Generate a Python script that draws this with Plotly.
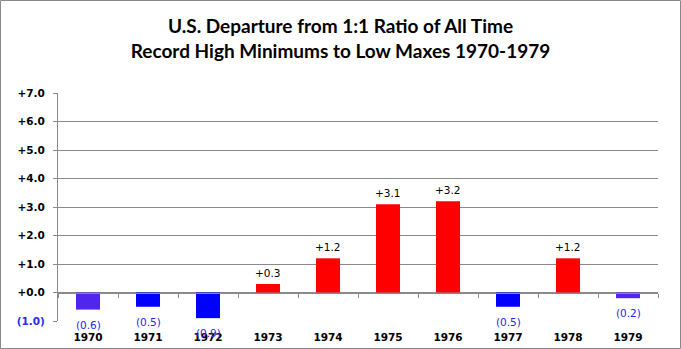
import plotly.graph_objects as go

# Departure from a 1:1 ratio of record high minimums to record low maximums, by year
years = ["1970", "1971", "1972", "1973", "1974", "1975", "1976", "1977", "1978", "1979"]
departure = [-0.6, -0.5, -0.9, 0.3, 1.2, 3.1, 3.2, -0.5, 1.2, -0.2]
bar_colors = ["#5026EE", "#0000FF", "#0000FF", "#FF0000", "#FF0000",
              "#FF0000", "#FF0000", "#0000FF", "#FF0000", "#5026EE"]

y_ticks = [-1, 0, 1, 2, 3, 4, 5, 6, 7]
y_tick_text = ["<span style='color:#2B2BF0'>(1.0)</span>", "+0.0", "+1.0", "+2.0",
               "+3.0", "+4.0", "+5.0", "+6.0", "+7.0"]

W, H = 681, 349
ML, MR, MT, MB = 58, 23, 93, 28
GRID = "#8A8A8A"
NEG_TEXT = "#2626F2"
Y_MIN, Y_MAX = -1, 7


def fmt(v):
    return f"+{v:.1f}" if v >= 0 else f"({abs(v):.1f})"


fig = go.Figure()
fig.add_trace(go.Bar(
    x=years, y=departure, marker=dict(color=bar_colors, line=dict(width=0)),
    width=0.4, hoverinfo="skip",
))

# value labels: above positive bars, below negative bars (x = category index)
for i, v in enumerate(departure):
    fig.add_annotation(
        x=i, y=v, xref="x", yref="y", text=fmt(v), showarrow=False,
        yanchor="bottom" if v >= 0 else "top",
        yshift=3 if v >= 0 else -7,
        font=dict(family="DejaVu Sans", size=10.5,
                  color="#000000" if v >= 0 else NEG_TEXT),
    )

# chart frame
pw, ph = W - ML - MR, H - MT - MB
fig.add_shape(type="rect", xref="paper", yref="paper",
              x0=-(ML - 0.5) / pw, x1=1 + (MR - 0.5) / pw,
              y0=-(MB - 0.5) / ph, y1=1 + (MT - 0.5) / ph,
              line=dict(color="#888888", width=1), layer="above")

fig.update_layout(
    width=W, height=H,
    margin=dict(l=ML, r=MR, t=MT, b=MB, pad=0, autoexpand=False),
    paper_bgcolor="white", plot_bgcolor="white",
    showlegend=False,
    title=dict(
        text="U.S. Departure from 1:1 Ratio of All Time<br>Record High Minimums to Low Maxes 1970-1979",
        x=0.5, xref="container", xanchor="center",
        y=1 - 33 / H, yref="container", yanchor="middle",
        font=dict(family="Lato", size=19, color="#000000", weight="bold"),
    ),
    # category axis drawn along zero, labels pushed down below the plot
    xaxis=dict(
        type="category", range=[-0.5, 9.5],
        anchor="free", position=(0 - Y_MIN) / (Y_MAX - Y_MIN),
        showline=True, linecolor=GRID, linewidth=1,
        ticks="outside", ticklen=4, tickcolor=GRID, tickson="boundaries",
        showgrid=False, zeroline=False, automargin=False,
        tickfont=dict(family="DejaVu Sans", size=10.5, color="#000000", weight="bold"),
        ticklabelstandoff=35,
    ),
    yaxis=dict(
        range=[Y_MIN, Y_MAX], tickvals=y_ticks, ticktext=y_tick_text,
        showgrid=True, gridcolor=GRID, gridwidth=1,
        zeroline=False, automargin=False,
        showline=True, linecolor=GRID, linewidth=1,
        ticks="outside", ticklen=4, tickcolor=GRID,
        tickfont=dict(family="DejaVu Sans", size=10.5, color="#000000", weight="bold"),
        ticklabelstandoff=6,
    ),
)

fig.write_html("out.html")
